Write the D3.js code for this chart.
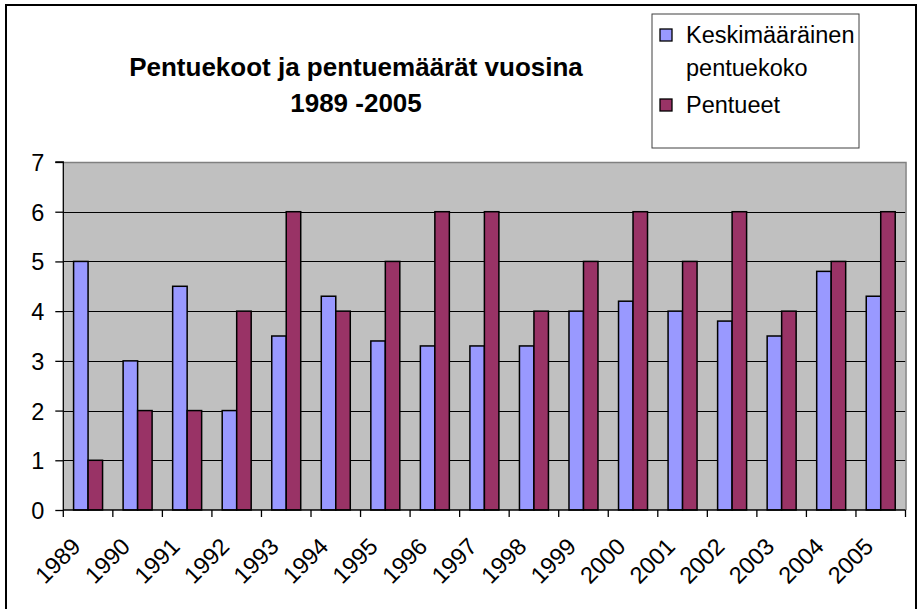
<!DOCTYPE html>
<html><head><meta charset="utf-8">
<script src="https://cdn.jsdelivr.net/npm/d3@7"></script>
<style>html,body{margin:0;padding:0;background:#fff;}svg{display:block;}</style>
</head><body>
<svg id="c" width="917" height="609"></svg>
<script>
const years = ["1989","1990","1991","1992","1993","1994","1995","1996","1997","1998","1999","2000","2001","2002","2003","2004","2005"];
const avgLitter = [5,3,4.5,2,3.5,4.3,3.4,3.3,3.3,3.3,4,4.2,4,3.8,3.5,4.8,4.3];
const litters = [1,2,2,4,6,4,5,6,6,4,5,6,5,6,4,5,6];
const seriesNames = ["Keskimääräinen pentuekoko","Pentueet"];
const yTicks = [0,1,2,3,4,5,6,7];
const titleLines = ["Pentuekoot ja pentuemäärät vuosina","1989 -2005"];

const colors = ["#9999FF","#993366"];
const font = "'Liberation Sans', Arial, sans-serif";
const svg = d3.select("#c");

// outer chart border
svg.append("rect").attr("x",6).attr("y",5).attr("width",910).attr("height",612)
  .attr("fill","#fff").attr("stroke","#000").attr("stroke-width",2);

const L=63.3, R=905.5, T=162, B=510;
const x = d3.scaleBand().domain(years).range([L,R]).paddingInner(0).paddingOuter(0);
const y = d3.scaleLinear().domain([0,7]).range([B,T]);
const bw = x.bandwidth();
const gw = bw*0.585, off=(bw-gw)/2;
const x1 = d3.scaleBand().domain([0,1]).range([off,off+gw]);

// plot background
svg.append("rect").attr("x",L).attr("y",T).attr("width",R-L).attr("height",B-T).attr("fill","#C0C0C0");
// gridlines
svg.append("g").selectAll("line").data(yTicks.filter(d=>d>0&&d<7)).join("line")
  .attr("x1",L).attr("x2",R).attr("y1",d=>Math.round(y(d))+0.5).attr("y2",d=>Math.round(y(d))+0.5)
  .attr("stroke","#000").attr("stroke-width",1);
// top & right border gray
svg.append("path").attr("d",`M${L},${T+0.5}H${R+0.5}V${B}`).attr("fill","none").attr("stroke","#808080").attr("stroke-width",1.5);

// bars
const series=[avgLitter,litters];
series.forEach((vals,si)=>{
  svg.append("g").selectAll("rect").data(vals).join("rect")
    .attr("x",(d,i)=>x(years[i])+x1(si))
    .attr("y",d=>y(d))
    .attr("width",x1.bandwidth())
    .attr("height",d=>B-y(d))
    .attr("fill",colors[si]).attr("stroke","#000").attr("stroke-width",1.5);
});

// y axis
const ya = svg.append("g").attr("transform",`translate(${L},0)`)
  .call(d3.axisLeft(y).tickValues(yTicks).tickSize(8).tickPadding(11).tickFormat(d3.format("d")));
ya.select(".domain").attr("stroke","#000").attr("stroke-width",1.3).attr("d",`M-8,${T}H0V${B}`);
ya.selectAll(".tick line").attr("stroke","#000").attr("stroke-width",1.3);
ya.selectAll(".tick text").attr("font-family",font).attr("font-size",23.5).attr("fill","#000").attr("dy","0.36em");

// x axis
const xa = svg.append("g").attr("transform",`translate(0,${B})`);
xa.append("line").attr("x1",L).attr("x2",R).attr("y1",0).attr("y2",0).attr("stroke","#000").attr("stroke-width",1.3);
const bounds = years.map(d=>x(d)).concat([R]);
xa.selectAll("line.t").data(bounds).join("line").attr("class","t")
  .attr("x1",d=>d).attr("x2",d=>d).attr("y1",0).attr("y2",7).attr("stroke","#000").attr("stroke-width",1.3);
xa.selectAll("text").data(years).join("text")
  .attr("transform",d=>`translate(${x(d)+bw/2-6},38) rotate(-45)`)
  .attr("text-anchor","end").attr("font-family",font).attr("font-size",23.5).attr("fill","#000")
  .text(d=>d);

// title
svg.append("g").selectAll("text").data(titleLines).join("text")
  .attr("x",356).attr("y",(d,i)=>76+i*36).attr("text-anchor","middle")
  .attr("font-family",font).attr("font-weight","bold").attr("font-size",26).attr("fill","#000")
  .text(d=>d);

// legend
const lg = svg.append("g");
lg.append("rect").attr("x",652).attr("y",14).attr("width",207).attr("height",134)
  .attr("fill","#fff").attr("stroke","#404040").attr("stroke-width",1);
const legendLines=[["Keskimääräinen","pentuekoko"],["Pentueet"]];
const ly=[43,113];
legendLines.forEach((lines,i)=>{
  lg.append("rect").attr("x",660).attr("y",ly[i]-14).attr("width",12).attr("height",12)
    .attr("fill",colors[i]).attr("stroke","#000").attr("stroke-width",1.3);
  lines.forEach((t,j)=>{
    lg.append("text").attr("x",686).attr("y",ly[i]+j*33).attr("font-family",font).attr("font-size",23.5)
      .attr("fill","#000").text(t);
  });
});
</script>
</body></html>
